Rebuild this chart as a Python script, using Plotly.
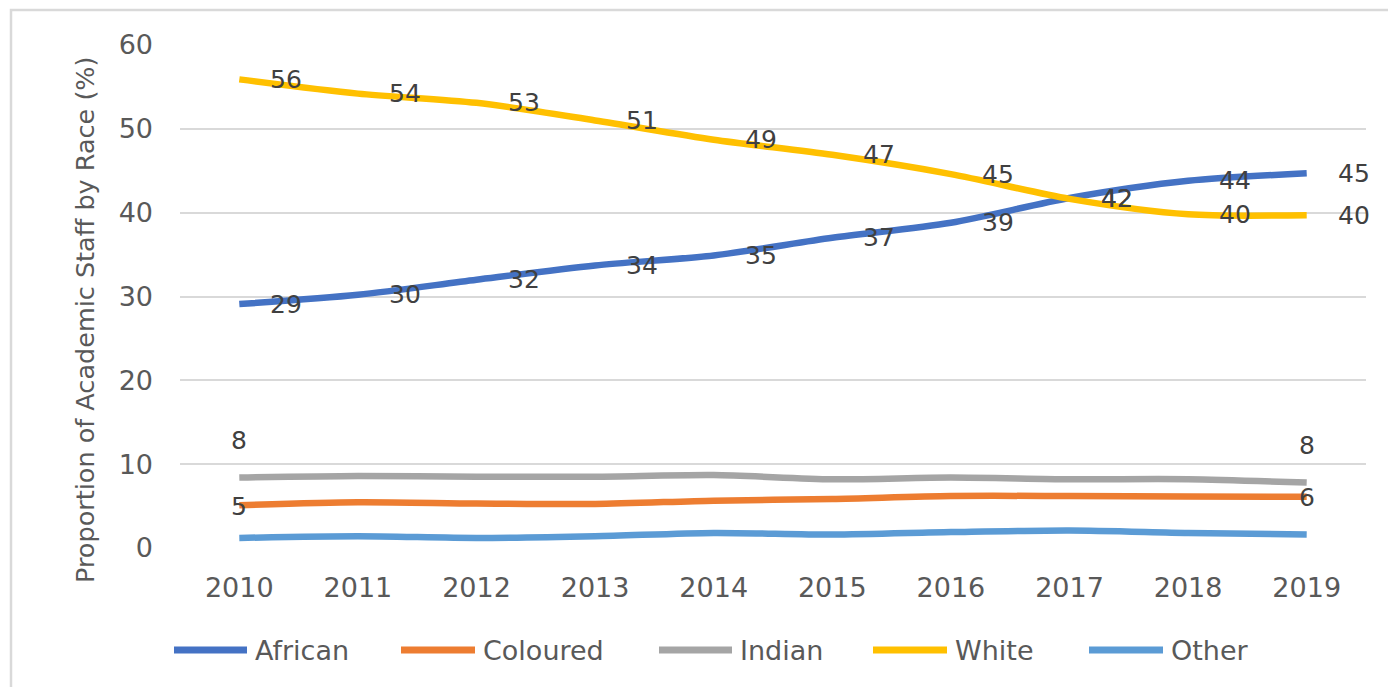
import plotly.graph_objects as go

years = ["2010", "2011", "2012", "2013", "2014", "2015", "2016", "2017", "2018", "2019"]
african = [29.1, 30.2, 32.0, 33.7, 34.9, 37.0, 38.8, 41.75, 43.8, 44.7]
coloured = [5.1, 5.45, 5.3, 5.25, 5.65, 5.85, 6.2, 6.2, 6.15, 6.1]
indian = [8.4, 8.6, 8.5, 8.5, 8.7, 8.2, 8.4, 8.2, 8.2, 7.8]
white = [55.9, 54.2, 53.1, 51.0, 48.7, 46.9, 44.6, 41.65, 39.8, 39.7]
other = [1.2, 1.4, 1.2, 1.4, 1.8, 1.6, 1.9, 2.1, 1.8, 1.6]

series_names = ["African", "Coloured", "Indian", "White", "Other"]
series_values = [african, coloured, indian, white, other]
colors = ["#4472C4", "#ED7D31", "#A5A5A5", "#FFC000", "#5B9BD5"]

# page body has an 8px margin; work in screen pixels and convert
OFF = 8
SW, SH = 1396, 687
W, H = SW - OFF, SH - OFF
PL, PR, PT, PB = 180, 1366, 45, 548  # plot area in screen px
ML, MT = PL - OFF, PT - OFF
MR, MB = W - (PR - OFF), H - (PB - OFF)
PW, PH = PR - PL, PB - PT

def px_x(px):
    return (px - PL) / PW

def px_y(py):
    return (PB - py) / PH

FONT = "DejaVu Sans"
TXT = "#595959"
LBL = "#404040"

fig = go.Figure()
for name, vals, col in zip(series_names, series_values, colors):
    fig.add_trace(go.Scatter(
        x=years, y=vals, mode="lines", name=name,
        line=dict(color=col, width=6.5, shape="spline", smoothing=0.8),
        showlegend=False, hoverinfo="x+y+name"))

annotations = []
# data labels: African & White at every point (right of point)
for vals in (african, white):
    for i, v in enumerate(vals):
        annotations.append(dict(x=i, y=v, xref="x", yref="y", text=str(int(round(v))),
                                showarrow=False, xanchor="left", yanchor="middle", xshift=29,
                                font=dict(family=FONT, size=25, color=LBL)))
# Indian: endpoints, above
for i in (0, len(years) - 1):
    annotations.append(dict(x=i, y=indian[i], xref="x", yref="y", text=str(int(round(indian[i]))),
                            showarrow=False, xanchor="center", yanchor="middle", yshift=37,
                            font=dict(family=FONT, size=25, color=LBL)))
# Coloured: endpoints, centered
for i in (0, len(years) - 1):
    annotations.append(dict(x=i, y=coloured[i], xref="x", yref="y", text=str(int(round(coloured[i]))),
                            showarrow=False, xanchor="center", yanchor="middle", yshift=-1,
                            font=dict(family=FONT, size=25, color=LBL)))

# y-axis title
annotations.append(dict(x=px_x(85), y=px_y(320), xref="paper", yref="paper",
                        text="Proportion of Academic Staff by Race (%)", textangle=-90,
                        showarrow=False, xanchor="center", yanchor="middle",
                        font=dict(family=FONT, size=25.5, color=TXT)))

# custom legend
shapes = []
leg_lines = [(171, 250), (398, 478), (656, 735), (870, 950), (1086, 1166)]
leg_y = 650
for (x0, x1), name, col in zip(leg_lines, series_names, colors):
    shapes.append(dict(type="line", xref="paper", yref="paper",
                       x0=px_x(x0 + 3), x1=px_x(x1 - 3), y0=px_y(leg_y), y1=px_y(leg_y),
                       line=dict(color=col, width=7)))
    annotations.append(dict(x=px_x(x1 + 3), y=px_y(leg_y), xref="paper", yref="paper",
                            text=name, showarrow=False, xanchor="left", yanchor="middle",
                            font=dict(family=FONT, size=27, color=TXT)))

# chart border
shapes.append(dict(type="rect", xref="paper", yref="paper",
                   x0=px_x(11), x1=px_x(SW + 30), y0=px_y(10), y1=px_y(SH + 30),
                   line=dict(color="#D9D9D9", width=2.5), fillcolor="rgba(0,0,0,0)", layer="below"))

fig.update_layout(
    width=W, height=H,
    margin=dict(l=ML, r=MR, t=MT, b=MB),
    paper_bgcolor="white", plot_bgcolor="white",
    font=dict(family=FONT, size=25, color=TXT),
    annotations=annotations, shapes=shapes,
    showlegend=False,
)
fig.update_xaxes(type="category", range=[-0.5, len(years) - 0.5], showgrid=False,
                 showline=False, zeroline=False, ticks="",
                 tickfont=dict(family=FONT, size=27, color=TXT), ticklabelstandoff=21)
fig.update_yaxes(range=[0, 60], dtick=10, showgrid=True, gridcolor="#D9D9D9", gridwidth=2,
                 showline=False, zeroline=False, ticks="",
                 tickfont=dict(family=FONT, size=27, color=TXT), ticklabelstandoff=26)

fig.write_html("out.html")
